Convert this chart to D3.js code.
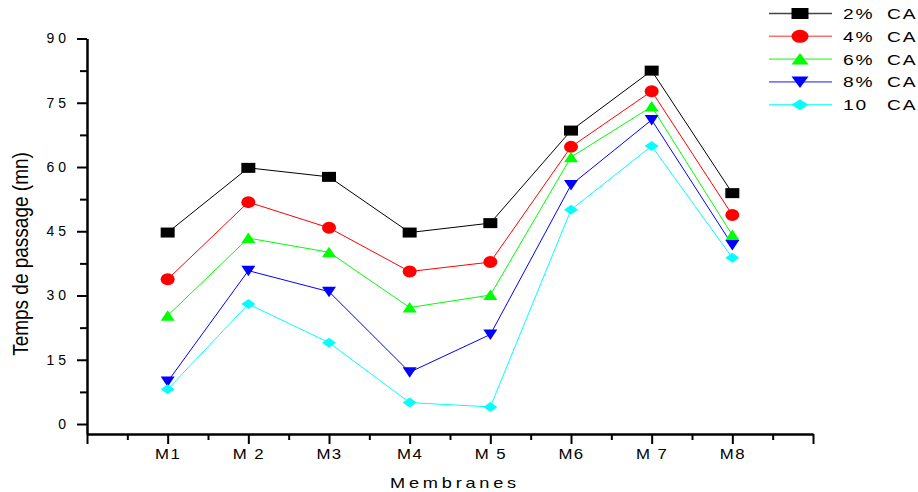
<!DOCTYPE html>
<html>
<head>
<meta charset="utf-8">
<script src="https://cdn.jsdelivr.net/npm/d3@7"></script>
<style>
  body { margin: 0; background: #ffffff; }
  svg { display: block; font-family: "Liberation Sans", Arial, sans-serif; }
</style>
</head>
<body>
<svg id="chart" width="918" height="492"></svg>
<script>
// data
const membranes = ["M1", "M 2", "M3", "M4", "M 5", "M6", "M 7", "M8"];
const seriesNames = ["2%", "4%", "6%", "8%", "10"];
const ca2 = [44.7, 59.8, 57.7, 44.7, 46.9, 68.5, 82.5, 53.9];
const ca4 = [33.8, 51.8, 45.8, 35.6, 37.8, 64.7, 77.7, 48.8];
const ca6 = [25.3, 43.4, 40.1, 27.2, 30.1, 62.3, 74.1, 44.1];
const ca8 = [9.9, 35.8, 30.9, 12.1, 20.9, 55.8, 71.0, 41.8];
const ca10 = [8.1, 28.0, 19.0, 5.0, 4.0, 50.0, 64.9, 38.8];
const yTicks = [0, 15, 30, 45, 60, 75, 90];

const seriesValues = [ca2, ca4, ca6, ca8, ca10];
const lineColors = ["#000000", "#ff0000", "#00ff00", "#0000ff", "#00ffff"];
const legendColors = ["#444444", "#ff7070", "#70ff70", "#7878ff", "#40ffff"];
const shapes = ["square", "circle", "up", "down", "diamond"];

const svg = d3.select("#chart");

// scales
const x = d3.scaleLinear().domain([0, 9]).range([87, 813]);
const y = d3.scaleLinear().domain([-2.33, 90]).range([434, 38.5]);

// marker drawing (markers are a bit wider than tall, like the original)
function marker(g, shape, cx, cy, color, w = 7, h = 5) {
    if (shape === "circle") {
        g.append("ellipse").attr("cx", cx).attr("cy", cy).attr("rx", w).attr("ry", h + 1).attr("fill", color);
        return;
    }
    let p;
    if (shape === "square") p = [[cx - w, cy - h], [cx + w, cy - h], [cx + w, cy + h], [cx - w, cy + h]];
    if (shape === "up") p = [[cx, cy - h - 0.5], [cx + w, cy + h], [cx - w, cy + h]];
    if (shape === "down") p = [[cx - w, cy - h], [cx + w, cy - h], [cx, cy + h + 0.5]];
    if (shape === "diamond") p = [[cx, cy - h], [cx + w, cy], [cx, cy + h], [cx - w, cy]];
    g.append("path").attr("d", "M" + p.join("L") + "Z").attr("fill", color);
}

// y axis
const yAxis = svg.append("g")
    .attr("transform", `translate(${x(0)},0)`)
    .call(d3.axisLeft(y).tickValues(yTicks).tickSize(10).tickSizeOuter(0).tickPadding(7).tickFormat(d3.format("d")));
yAxis.select(".domain").attr("stroke-width", 2.5);
yAxis.selectAll(".tick line").attr("stroke-width", 2);
yAxis.selectAll(".tick text")
    .style("font-size", "14px").style("letter-spacing", "4px")
    .attr("fill", "#000").attr("font-family", null);

svg.append("g")
    .attr("transform", `translate(${x(0)},0)`)
    .call(d3.axisLeft(y).tickValues(yTicks.slice(0, -1).map(d => d + 7.5)).tickSize(7).tickFormat(""))
    .call(g => g.select(".domain").remove())
    .selectAll(".tick line").attr("stroke-width", 2);

// x axis
const xAxis = svg.append("g")
    .attr("transform", `translate(0,${y.range()[0]})`)
    .call(d3.axisBottom(x).tickValues(d3.range(0, 10)).tickSize(10).tickSizeOuter(0).tickPadding(5)
        .tickFormat(d => (d >= 1 && d <= 8) ? membranes[d - 1] : ""));
xAxis.select(".domain").attr("stroke-width", 2.5);
xAxis.selectAll(".tick line").attr("stroke-width", 2);
xAxis.selectAll(".tick text")
    .style("font-size", "14px").style("letter-spacing", "1.2px").style("white-space", "pre")
    .attr("fill", "#000").attr("font-family", null)
    .attr("transform", "scale(1.2,1)");

svg.append("g")
    .attr("transform", `translate(0,${y.range()[0]})`)
    .call(d3.axisBottom(x).tickValues(d3.range(0, 9).map(d => d + 0.5)).tickSize(6).tickFormat(""))
    .call(g => g.select(".domain").remove())
    .selectAll(".tick line").attr("stroke-width", 2);

// axis titles
svg.append("text")
    .attr("transform", "translate(28,254) rotate(-90) scale(1,1.18)")
    .attr("text-anchor", "middle")
    .style("font-size", "19px")
    .text("Temps de passage (mn)");

svg.append("text")
    .attr("transform", "translate(455,488) scale(1.3,1)")
    .attr("text-anchor", "middle")
    .style("font-size", "14px").style("letter-spacing", "2.9px")
    .text("Membranes");

// series lines and markers
const line = d3.line().x((d, i) => x(i + 1)).y(d => y(d));
seriesValues.forEach((vals, s) => {
    svg.append("path")
        .attr("d", line(vals))
        .attr("fill", "none")
        .attr("stroke", lineColors[s])
        .attr("stroke-width", 1);
});
seriesValues.forEach((vals, s) => {
    const g = svg.append("g");
    vals.forEach((v, i) => marker(g, shapes[s], x(i + 1), y(v), lineColors[s]));
});

// legend
const legend = svg.append("g");
seriesNames.forEach((name, s) => {
    const ly = 13.5 + s * 22.8;
    legend.append("line")
        .attr("x1", 769).attr("x2", 832).attr("y1", ly).attr("y2", ly)
        .attr("stroke", legendColors[s]).attr("stroke-width", 1.6);
    marker(legend, shapes[s], 800, ly, lineColors[s], 8.5, 5.5);
    const t = legend.append("text")
        .attr("transform", `translate(843,${ly + 5.5}) scale(1.28,1)`)
        .style("font-size", "15px").style("letter-spacing", "1.5px");
    t.append("tspan").attr("x", 0).text(name);
    t.append("tspan").attr("x", (887 - 843) / 1.28).text("CA");
});
</script>
</body>
</html>
